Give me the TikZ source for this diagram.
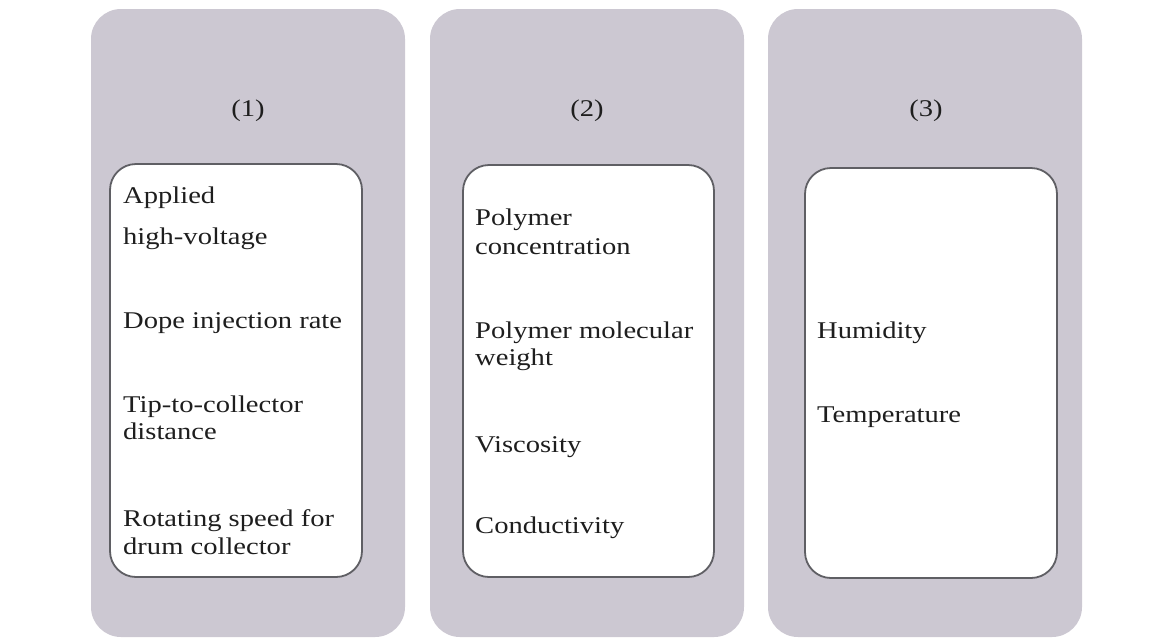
\documentclass[tikz,border=0pt]{standalone}
\usepackage{fontspec}
\setmainfont{Liberation Serif}
\newfontfamily\widefont[FakeStretch=1.19]{Liberation Serif}
\definecolor{panelgrey}{RGB}{204,200,210}
\definecolor{edgegrey}{RGB}{95,95,100}
\definecolor{txt}{RGB}{30,30,30}
\tikzset{
  panel/.style={fill=panelgrey, draw=none, rounded corners=30pt},
  listbox/.style={fill=white, draw=edgegrey, line width=1.8pt, rounded corners=26pt},
  itemtext/.style={anchor=base west, inner sep=0pt, text=txt, font=\widefont\fontsize{24}{28}\selectfont},
  headtext/.style={anchor=base, inner sep=0pt, text=txt, font=\widefont\fontsize{24}{28}\selectfont}
}
\begin{document}
\begin{tikzpicture}[x=1pt,y=-1pt]
\useasboundingbox (0,0) rectangle (1164,638);
% panels
\path[panel] (91,9) rectangle (405,637);
\path[panel] (430,9) rectangle (744,637);
\path[panel] (768,9) rectangle (1082,637);
% inner boxes
\draw[listbox] (110,164) rectangle (362,577);
\draw[listbox] (463,165) rectangle (714,577);
\draw[listbox] (805,168) rectangle (1057,578);
% headings
\node[headtext] (h1) at (248,116) {(1)};
\node[headtext] (h2) at (587,116) {(2)};
\node[headtext] (h3) at (926,116) {(3)};
% column 1
\node[itemtext] (a1) at (123,203) {Applied};
\node[itemtext] (a2) at (123,244) {high-voltage};
\node[itemtext] (a3) at (123,328) {Dope injection rate};
\node[itemtext] (a4) at (123,412) {Tip-to-collector};
\node[itemtext] (a5) at (123,439) {distance};
\node[itemtext] (a6) at (123,526) {Rotating speed for};
\node[itemtext] (a7) at (123,554) {drum collector};
% column 2
\node[itemtext] (b1) at (475,225) {Polymer};
\node[itemtext] (b2) at (475,254) {concentration};
\node[itemtext] (b3) at (475,338) {Polymer molecular};
\node[itemtext] (b4) at (475,365) {weight};
\node[itemtext] (b5) at (475,452) {Viscosity};
\node[itemtext] (b6) at (475,533) {Conductivity};
% column 3
\node[itemtext] (c1) at (817,338) {Humidity};
\node[itemtext] (c2) at (817,422) {Temperature};
\end{tikzpicture}
\end{document}
